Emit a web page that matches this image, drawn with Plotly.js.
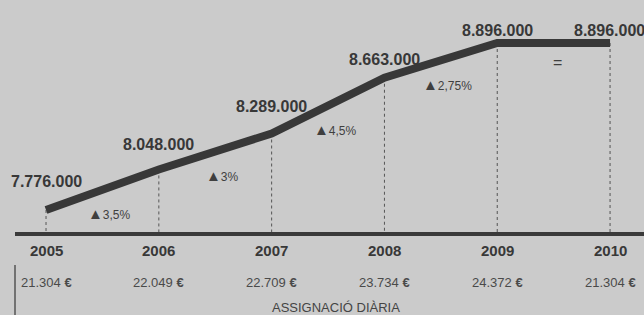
<!DOCTYPE html>
<html>
<head>
<meta charset="utf-8">
<script src="https://cdn.plot.ly/plotly-3.0.1.min.js"></script>
<style>html,body{margin:0;padding:0;background:#cbcbcb;}#chart{width:644px;height:315px;}</style>
</head>
<body>
<div id="chart"></div>
<script>
const years = [2005, 2006, 2007, 2008, 2009, 2010];
const amounts = [7776000, 8048000, 8289000, 8663000, 8896000, 8896000];
const amountLabels = ["7.776.000", "8.048.000", "8.289.000", "8.663.000", "8.896.000", "8.896.000"];
const changeLabels = ["3,5%", "3%", "4,5%", "2,75%", "="];
const dailyLabels = ["21.304 €", "22.049 €", "22.709 €", "23.734 €", "24.372 €", "21.304 €"];
const yearLabels = ["2005", "2006", "2007", "2008", "2009", "2010"];
const unitsLabel = "Xifres en euros";
const rowTitle = "ASSIGNACIÓ DIÀRIA";

const W = 644, H = 315;
const xRange = [2004.592, 2010.301];
const yRange = [7071800, 9184400];
const baselinePx = 234;
const baseVal = yRange[0] + (1 - baselinePx / H) * (yRange[1] - yRange[0]);
const pY = px => 1 - px / H;

const labelShift = [29, 25, 27, 18, 13, 13];
const dark = '#383838';
const font = 'Liberation Sans, Arial, sans-serif';

const annotations = [];
years.forEach((yr, i) => {
  annotations.push({x: yr, y: amounts[i], xref: 'x', yref: 'y', text: '<b>' + amountLabels[i] + '</b>',
    showarrow: false, yshift: labelShift[i], xshift: i === years.length - 1 ? -1 : 0,
    xanchor: 'center', yanchor: 'middle',
    font: {family: font, size: 16, color: dark}});
  annotations.push({x: yr, y: pY(250), xref: 'x', yref: 'paper', text: '<b>' + yearLabels[i] + '</b>',
    showarrow: false, xanchor: 'center', yanchor: 'middle', font: {family: font, size: 15, color: dark}});
  annotations.push({x: yr, y: pY(282), xref: 'x', yref: 'paper',
    text: dailyLabels[i].replace('€', '<b>€</b>'),
    showarrow: false, xanchor: 'center', yanchor: 'middle', font: {family: font, size: 13, color: '#4a4a4a'}});
});
changeLabels.forEach((t, i) => {
  const isEq = t === '=';
  annotations.push({x: (years[i] + years[i + 1]) / 2, y: (amounts[i] + amounts[i + 1]) / 2, xref: 'x', yref: 'y',
    text: isEq ? t : '<span style="font-size:15px">▲</span>' + t,
    showarrow: false, xshift: isEq ? 4 : 7, yshift: isEq ? -19 : -24,
    xanchor: 'center', yanchor: 'middle',
    font: {family: font, size: isEq ? 16 : 12, color: '#3f3f3f'}});
});
annotations.push({x: 336 / W, y: pY(307), xref: 'paper', yref: 'paper', text: rowTitle, showarrow: false,
  xanchor: 'center', yanchor: 'middle', font: {family: font, size: 13, color: '#444'}});
annotations.push({x: 0, y: 1, xref: 'paper', yref: 'paper', text: unitsLabel, showarrow: false,
  xanchor: 'left', yanchor: 'bottom', yshift: -4, xshift: 2, font: {family: font, size: 12, color: '#6a6a6a'}});

const shapes = [];
years.forEach((yr, i) => {
  shapes.push({type: 'line', xref: 'x', yref: 'y', x0: yr, x1: yr, y0: amounts[i], y1: baseVal,
    line: {color: '#555', width: 1, dash: '3px,3px'}, layer: 'below'});
});
shapes.push({type: 'line', xref: 'paper', yref: 'paper', x0: 15 / W, x1: 1, y0: pY(baselinePx), y1: pY(baselinePx),
  line: {color: '#3a3a3a', width: 4}});
shapes.push({type: 'line', xref: 'paper', yref: 'paper', x0: 15 / W, x1: 15 / W, y0: pY(265), y1: 0,
  line: {color: '#555', width: 1.5}});

const trace = {x: years, y: amounts, type: 'scatter', mode: 'lines',
  line: {color: dark, width: 8}, hoverinfo: 'skip'};

Plotly.newPlot('chart', [trace], {
  width: W, height: H,
  margin: {l: 0, r: 0, t: 0, b: 0},
  paper_bgcolor: '#cbcbcb', plot_bgcolor: '#cbcbcb',
  showlegend: false,
  xaxis: {range: xRange, visible: false, fixedrange: true},
  yaxis: {range: yRange, visible: false, fixedrange: true},
  annotations: annotations, shapes: shapes
}, {staticPlot: true});
</script>
</body>
</html>
